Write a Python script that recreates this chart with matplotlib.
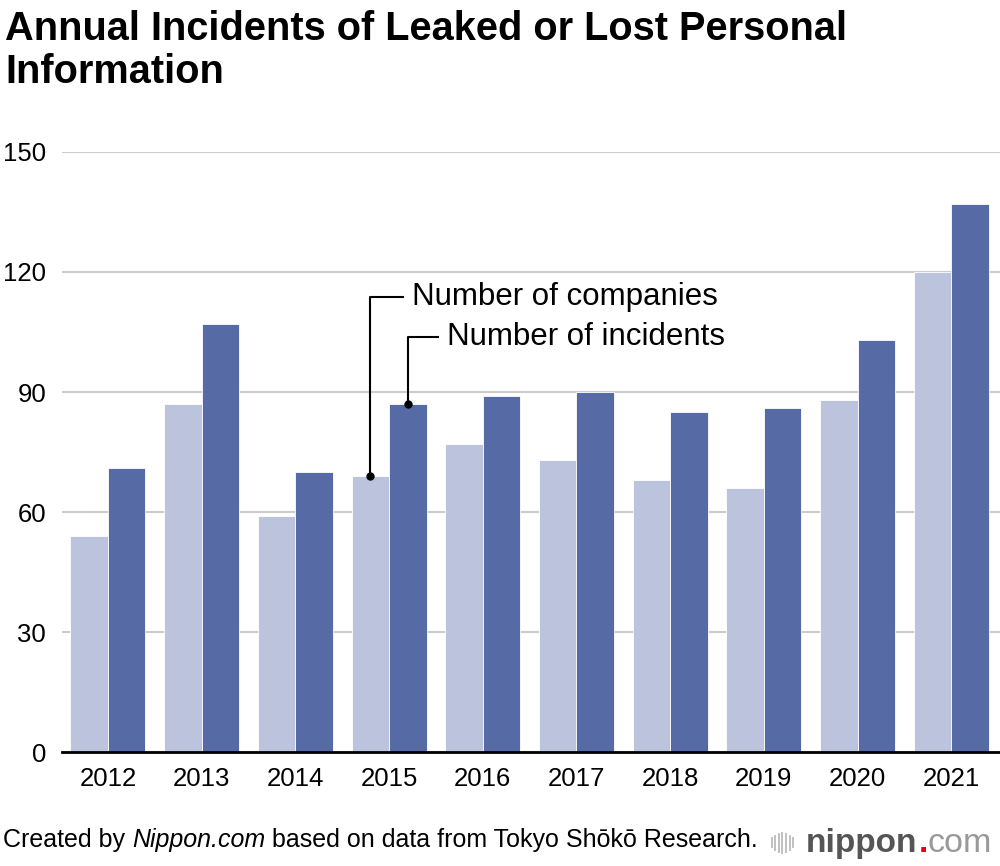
import matplotlib.pyplot as plt
import numpy as np

plt.rcParams['font.family'] = ['Liberation Sans', 'DejaVu Sans']

years = ['2012', '2013', '2014', '2015', '2016', '2017', '2018', '2019', '2020', '2021']
companies = [54, 87, 59, 69, 77, 73, 68, 66, 88, 120]
incidents = [71, 107, 70, 87, 89, 90, 85, 86, 103, 137]

light = '#bcc4dd'
dark = '#566ba6'

fig = plt.figure(figsize=(10, 8.66), dpi=100)
ax = fig.add_axes([0.062, 0.1316, 0.938, 0.6929])

x = np.arange(len(years))
w = 0.40
ax.bar(x - w / 2, companies, w, color=light, edgecolor='white', linewidth=0.6, zorder=3)
ax.bar(x + w / 2, incidents, w, color=dark, edgecolor='white', linewidth=0.6, zorder=3)

ax.set_xlim(-0.49, 9.52)
ax.set_ylim(0, 150)
ax.set_yticks([0, 30, 60, 90, 120, 150])
ax.set_xticks(x)
ax.set_xticklabels(years)
ax.tick_params(axis='both', length=0, labelsize=18.5)
ax.tick_params(axis='y', pad=11.5)
ax.tick_params(axis='x', pad=11)
ax.yaxis.grid(True, color='#cccccc', linewidth=1.5, zorder=0)
for s in ['top', 'right', 'left']:
    ax.spines[s].set_visible(False)
ax.spines['bottom'].set_color('black')
ax.spines['bottom'].set_linewidth(2)
ax.spines['bottom'].set_zorder(4)

# leader lines for the two series, anchored to the 2015 bars
i = 3
labels = [('Number of companies', companies[i], i - w / 2, 113.75, 3.148, 3.245),
          ('Number of incidents', incidents[i], i + w / 2, 103.75, 3.52, 3.615)]
for text, val, bx, ly, lx, tx in labels:
    ax.plot([bx, bx, lx], [val, ly, ly], color='black', linewidth=1.5, zorder=5, clip_on=False)
    ax.plot([bx], [val], 'o', color='black', markersize=5, zorder=6)
    ax.text(tx, ly, text, fontsize=22.5, va='center', ha='left', zorder=6)

fig.text(0.005, 0.988, 'Annual Incidents of Leaked or Lost Personal\nInformation',
         fontsize=28.6, fontweight='bold', va='top', ha='left', linespacing=1.16)

# footer
r = fig.canvas.get_renderer()
fy = 0.022
fs = 18
t1 = fig.text(0.003, fy, 'Created by ', fontsize=fs, va='baseline', ha='left')
bb = t1.get_window_extent(r)
t2 = fig.text(bb.x1 / fig.bbox.width, fy, 'Nippon.com', fontsize=fs, style='italic',
              va='baseline', ha='left')
bb2 = t2.get_window_extent(r)
fig.text(bb2.x1 / fig.bbox.width, fy, ' based on data from Tokyo Shōkō Research.',
         fontsize=fs, va='baseline', ha='left')

# nippon.com logo
hs = [0.45, 0.7, 0.9, 1.0, 0.9, 0.7, 0.45]
for k, h in enumerate(hs):
    xx = 0.7715 + k * 0.0036
    fig.add_artist(plt.Line2D([xx, xx], [0.0266 - 0.0115 * h, 0.0266 + 0.0115 * h],
                              color='#bbbbbb', linewidth=1.3))
ly0 = 0.0165
lt = fig.text(0.806, ly0, 'nippon', fontsize=24, fontweight='bold', color='#555555',
              va='baseline', ha='left')
b3 = lt.get_window_extent(r)
dt = fig.text(b3.x1 / fig.bbox.width + 0.001, ly0, '.', fontsize=24, fontweight='bold',
              color='#e60012', va='baseline', ha='left')
b4 = dt.get_window_extent(r)
fig.text(b4.x1 / fig.bbox.width, ly0, 'com', fontsize=24.5, color='#999999',
         va='baseline', ha='left')

fig.savefig('out.png', dpi=100)
